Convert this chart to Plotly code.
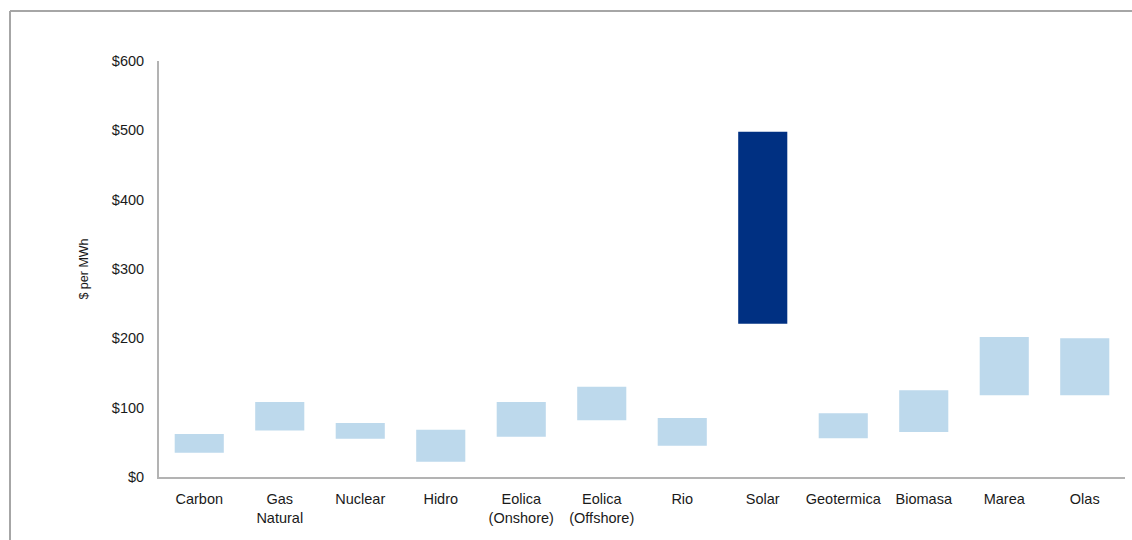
import plotly.graph_objects as go

categories = ["Carbon", "Gas<br>Natural", "Nuclear", "Hidro", "Eolica<br>(Onshore)",
              "Eolica<br>(Offshore)", "Rio", "Solar", "Geotermica", "Biomasa", "Marea", "Olas"]
low_values = [35, 67, 55, 22, 58, 82, 45, 221, 56, 65, 118, 118]
high_values = [62, 108, 78, 68, 108, 130, 85, 498, 92, 125, 202, 200]
highlight = "Solar"

y_ticks = [0, 100, 200, 300, 400, 500, 600]
y_tick_labels = ["$0", "$100", "$200", "$300", "$400", "$500", "$600"]

LIGHT = "#BDD9EC"
DARK = "#003082"
colors = [DARK if c == highlight else LIGHT for c in categories]

fig = go.Figure()
fig.add_trace(go.Bar(
    x=categories,
    y=[h - l for h, l in zip(high_values, low_values)],
    base=low_values,
    marker=dict(color=colors, line=dict(width=0)),
    hoverinfo="skip",
))

W, H = 1132, 540
ml, mr, mt, mb = 159, 7, 61, 63
pw = W - ml - mr
ph = H - mt - mb
fx = (10 - ml) / pw
fy = 1 + (mt - 11) / ph

fig.update_layout(
    width=W, height=H,
    margin=dict(l=ml, r=mr, t=mt, b=mb),
    paper_bgcolor="white",
    plot_bgcolor="white",
    showlegend=False,
    bargap=0.39,
    font=dict(family="Liberation Sans, Arial, sans-serif", size=14.5, color="#1a1a1a"),
    xaxis=dict(
        showgrid=False,
        showline=True,
        linecolor="#b3b3b3",
        linewidth=2,
        ticks="",
        ticklabelstandoff=8,
        tickfont=dict(size=14.5),
        fixedrange=True,
    ),
    yaxis=dict(
        range=[0, 600],
        tickvals=y_ticks,
        ticktext=y_tick_labels,
        showgrid=False,
        zeroline=False,
        showline=True,
        linecolor="#b3b3b3",
        linewidth=2,
        ticks="",
        ticklabelstandoff=10,
        tickfont=dict(size=14.5),
        title=dict(text="$ per MWh", font=dict(size=12.5, color="#1a1a1a"), standoff=20),
        fixedrange=True,
    ),
    shapes=[
        dict(type="line", xref="paper", yref="paper", x0=fx, x1=fx, y0=-0.3, y1=fy,
             line=dict(color="#a6a6a6", width=2)),
        dict(type="line", xref="paper", yref="paper", x0=fx, x1=1.05, y0=fy, y1=fy,
             line=dict(color="#a6a6a6", width=2)),
    ],
)

fig.write_html("out.html")
